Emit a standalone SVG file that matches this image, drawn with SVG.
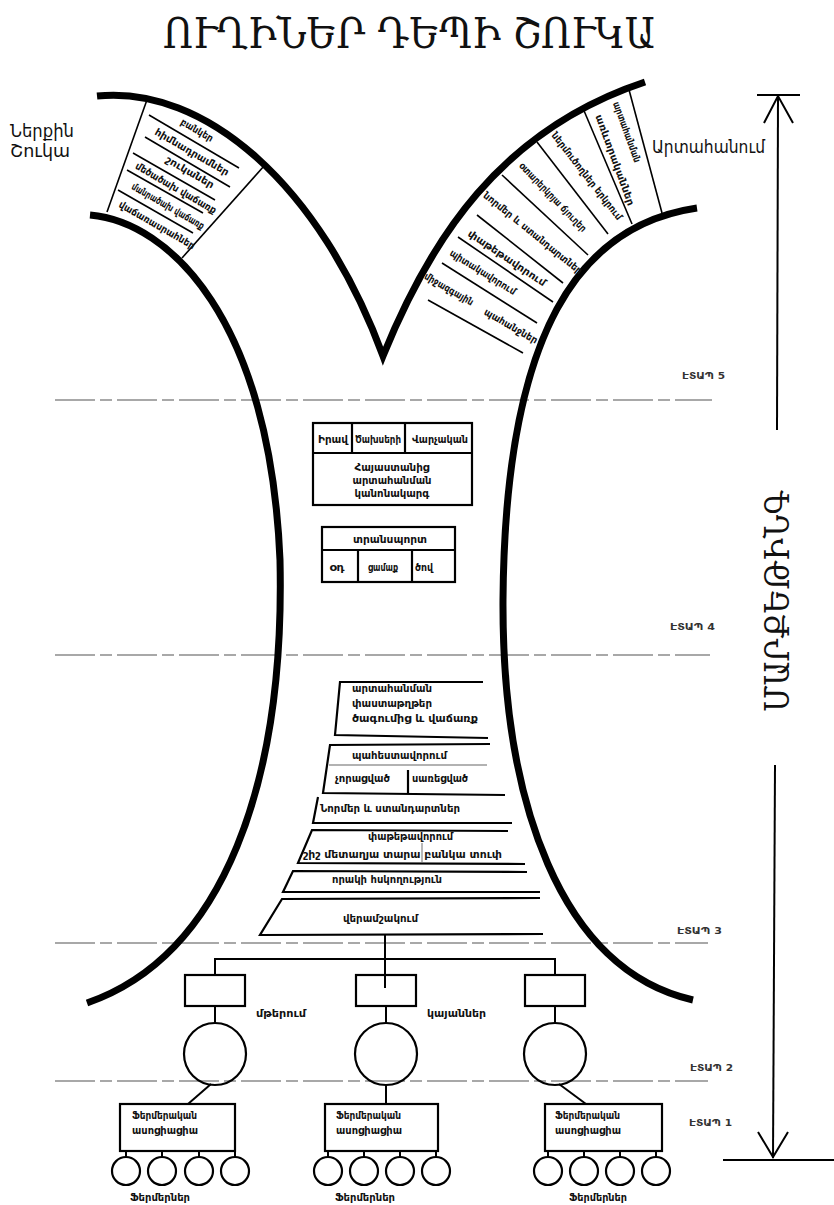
<svg xmlns="http://www.w3.org/2000/svg" width="834" height="1205" viewBox="0 0 834 1205">
<style>
.bg{fill:#fff}
.wall{fill:none;stroke:#000;stroke-width:7;stroke-linejoin:miter;stroke-miterlimit:6}
.ln{fill:none;stroke:#000;stroke-width:1.6}
.bx{fill:none;stroke:#000;stroke-width:2.2}
.grey{fill:none;stroke:#999;stroke-width:1.4}
.dash{fill:none;stroke:#8c8c8c;stroke-width:1.6;stroke-dasharray:40 5 12 5}
.conn{fill:none;stroke:#000;stroke-width:2}
.t{font-family:"DejaVu Sans","Noto Sans",sans-serif;fill:#111}
.sm{font-size:10px;font-weight:bold}
.lg{font-size:17px}
.et{font-size:9.5px;font-weight:bold;fill:#333}
.ttl{font-family:"DejaVu Serif","Noto Serif",serif;font-size:42px;fill:#111}
.vt{font-family:"DejaVu Serif","Noto Serif",serif;font-size:34px;fill:#111}
</style>
<rect class="bg" width="834" height="1205"/>

<text class="ttl" x="163" y="48" textLength="492" lengthAdjust="spacingAndGlyphs">ՈՒՂԻՆԵՐ ԴԵՊԻ ՇՈՒԿԱ</text>

<g id="stages">
<line class="dash" x1="55" y1="400" x2="712" y2="400"/>
<line class="dash" x1="55" y1="655" x2="710" y2="655"/>
<line class="dash" x1="55" y1="943" x2="708" y2="943"/>
<line class="dash" x1="55" y1="1081" x2="708" y2="1081"/>
<text class="t et" x="682" y="379" textLength="43" lengthAdjust="spacingAndGlyphs">ԷՏԱՊ 5</text>
<text class="t et" x="670" y="630" textLength="45" lengthAdjust="spacingAndGlyphs">ԷՏԱՊ 4</text>
<text class="t et" x="677" y="934" textLength="45" lengthAdjust="spacingAndGlyphs">ԷՏԱՊ 3</text>
<text class="t et" x="690" y="1071" textLength="43" lengthAdjust="spacingAndGlyphs">ԷՏԱՊ 2</text>
<text class="t et" x="689" y="1126" textLength="43" lengthAdjust="spacingAndGlyphs">ԷՏԱՊ 1</text>
</g>

<g id="walls">
<path class="wall" d="M97,96 C205,85 320,185 383,356 C430,240 500,130 645,82"/>
<path class="wall" d="M90,215 C170,222 270,320 280,560 C285,780 225,955 87,1003"/>
<path class="wall" d="M697,208 C580,225 505,330 503,600 C502,800 560,970 693,1000"/>
</g>

<g id="inner-market">
<text class="t lg" x="42" y="137" text-anchor="middle" textLength="64" lengthAdjust="spacingAndGlyphs">Ներքին</text>
<text class="t lg" x="40" y="157" text-anchor="middle" textLength="60" lengthAdjust="spacingAndGlyphs">Շուկա</text>
<line class="ln" x1="148" y1="97" x2="107" y2="212"/>
<line class="ln" x1="264" y1="166" x2="182" y2="258"/>
<line class="ln" x1="149" y1="115" x2="239" y2="168"/>
<line class="ln" x1="145" y1="137" x2="230" y2="187"/>
<line class="ln" x1="133" y1="153" x2="215" y2="200"/>
<line class="ln" x1="127" y1="170" x2="203" y2="213"/>
<line class="ln" x1="118" y1="190" x2="193" y2="233"/>
<text class="t sm" transform="translate(197,130) rotate(30)" dy="3.5" text-anchor="middle" textLength="36" lengthAdjust="spacingAndGlyphs">բանկեր</text>
<text class="t sm" transform="translate(192,152) rotate(30)" dy="3.5" text-anchor="middle" textLength="84" lengthAdjust="spacingAndGlyphs">հիմնադրամներ</text>
<text class="t sm" transform="translate(190,172) rotate(30)" dy="3.5" text-anchor="middle" textLength="54" lengthAdjust="spacingAndGlyphs">շուկաներ</text>
<text class="t sm" transform="translate(176,188) rotate(30)" dy="3.5" text-anchor="middle" textLength="92" lengthAdjust="spacingAndGlyphs">մեծածախ վաճառք</text>
<text class="t sm" transform="translate(168,206) rotate(30)" dy="3.5" text-anchor="middle" textLength="82" lengthAdjust="spacingAndGlyphs">մանրածախ վաճառք</text>
<text class="t sm" transform="translate(157,225) rotate(30)" dy="3.5" text-anchor="middle" textLength="86" lengthAdjust="spacingAndGlyphs">վաճառասրահներ</text>
</g>

<g id="export">
<text class="t lg" x="652" y="153" textLength="113" lengthAdjust="spacingAndGlyphs">Արտահանում</text>
<line class="ln" x1="628" y1="86" x2="662" y2="213"/>
<line class="ln" x1="582" y1="106" x2="632" y2="224"/>
<line class="ln" x1="537" y1="142" x2="608" y2="234"/>
<line class="ln" x1="502" y1="175" x2="588" y2="255"/>
<line class="ln" x1="477" y1="215" x2="563" y2="283"/>
<line class="ln" x1="458" y1="237" x2="553" y2="302"/>
<line class="ln" x1="442" y1="263" x2="537" y2="323"/>
<line class="ln" x1="428" y1="300" x2="523" y2="353"/>
<text class="t sm" transform="translate(627,132) rotate(70)" dy="3.5" text-anchor="middle" textLength="64" lengthAdjust="spacingAndGlyphs">արտահանման</text>
<text class="t sm" transform="translate(615,160) rotate(70)" dy="3.5" text-anchor="middle" textLength="96" lengthAdjust="spacingAndGlyphs">առևտրականներ</text>
<text class="t sm" transform="translate(587,176) rotate(52)" dy="3.5" text-anchor="middle" textLength="108" lengthAdjust="spacingAndGlyphs">ներմուծողներ երկրում</text>
<text class="t sm" transform="translate(553,197) rotate(46)" dy="3.5" text-anchor="middle" textLength="92" lengthAdjust="spacingAndGlyphs">օտարերկրյա ճյուղեր</text>
<text class="t sm" transform="translate(533,233) rotate(39)" dy="3.5" text-anchor="middle" textLength="124" lengthAdjust="spacingAndGlyphs">նորմեր և ստանդարտներ</text>
<text class="t sm" transform="translate(507,258) rotate(34)" dy="3.5" text-anchor="middle" textLength="92" lengthAdjust="spacingAndGlyphs">փաթեթավորում</text>
<text class="t sm" transform="translate(483,272) rotate(32)" dy="3.5" text-anchor="middle" textLength="76" lengthAdjust="spacingAndGlyphs">պիտակավորում</text>
<text class="t sm" transform="translate(449,289) rotate(30)" dy="3.5" text-anchor="middle" textLength="55" lengthAdjust="spacingAndGlyphs">միջազգային</text>
<text class="t sm" transform="translate(511,326) rotate(30)" dy="3.5" text-anchor="middle" textLength="60" lengthAdjust="spacingAndGlyphs">պահանջներ</text>
</g>

<g id="regulation">
<rect class="bx" x="313" y="423" width="159" height="82"/>
<line class="bx" x1="313" y1="453" x2="472" y2="453"/>
<line class="bx" x1="352" y1="423" x2="352" y2="453"/>
<line class="bx" x1="405" y1="423" x2="405" y2="453"/>
<text class="t sm" x="333" y="443" text-anchor="middle" textLength="30" lengthAdjust="spacingAndGlyphs">Իրավ</text>
<text class="t sm" x="378" y="443" text-anchor="middle" textLength="46" lengthAdjust="spacingAndGlyphs">Ծախսերի</text>
<text class="t sm" x="440" y="443" text-anchor="middle" textLength="56" lengthAdjust="spacingAndGlyphs">Վարչական</text>
<text class="t sm" x="392" y="471" text-anchor="middle" textLength="75" lengthAdjust="spacingAndGlyphs">Հայաստանից</text>
<text class="t sm" x="392" y="484" text-anchor="middle" textLength="79" lengthAdjust="spacingAndGlyphs">արտահանման</text>
<text class="t sm" x="392" y="497" text-anchor="middle" textLength="75" lengthAdjust="spacingAndGlyphs">կանոնակարգ</text>
</g>

<g id="transport">
<rect class="bx" x="322" y="527" width="133" height="55"/>
<line class="bx" x1="322" y1="550" x2="455" y2="550"/>
<line class="bx" x1="358" y1="550" x2="358" y2="582"/>
<line class="bx" x1="412" y1="550" x2="412" y2="582"/>
<text class="t sm" x="390" y="543" text-anchor="middle" textLength="74" lengthAdjust="spacingAndGlyphs">տրանսպորտ</text>
<text class="t sm" x="337" y="571" text-anchor="middle" textLength="15" lengthAdjust="spacingAndGlyphs">օդ</text>
<text class="t sm" x="383" y="571" text-anchor="middle" textLength="30" lengthAdjust="spacingAndGlyphs">ցամաք</text>
<text class="t sm" x="424" y="571" text-anchor="middle" textLength="18" lengthAdjust="spacingAndGlyphs">ծով</text>
</g>

<g id="documents">
<path class="bx" d="M483,682 L340,682 L335,735 L488,738"/>
<text class="t sm" x="352" y="692" textLength="80" lengthAdjust="spacingAndGlyphs">արտահանման</text>
<text class="t sm" x="352" y="707" textLength="80" lengthAdjust="spacingAndGlyphs">փաստաթղթեր</text>
<text class="t sm" x="352" y="722" textLength="126" lengthAdjust="spacingAndGlyphs">ծագումից և վաճառք</text>
</g>

<g id="storage">
<path class="bx" d="M490,744 L330,745 L323,793 L505,795"/>
<line class="grey" x1="329" y1="765" x2="487" y2="765"/>
<line class="bx" x1="408" y1="770" x2="408" y2="793"/>
<text class="t sm" x="352" y="759" textLength="95" lengthAdjust="spacingAndGlyphs">պահեստավորում</text>
<text class="t sm" x="335" y="782" textLength="55" lengthAdjust="spacingAndGlyphs">չորացված</text>
<text class="t sm" x="412" y="782" textLength="56" lengthAdjust="spacingAndGlyphs">սառեցված</text>
</g>

<g id="standards">
<path class="bx" d="M318,797 L313,823 L512,823"/>
<text class="t sm" x="320" y="812" textLength="140" lengthAdjust="spacingAndGlyphs">Նորմեր և ստանդարտներ</text>
</g>

<g id="packaging">
<path class="bx" d="M508,831 L312,830 L298,863 L525,864"/>
<line class="grey" x1="422" y1="843" x2="422" y2="862"/>
<text class="t sm" x="368" y="840" textLength="85" lengthAdjust="spacingAndGlyphs">փաթեթավորում</text>
<text class="t sm" x="303" y="858" textLength="199" lengthAdjust="spacingAndGlyphs">շիշ   մետաղյա  տարա   բանկա   տուփ</text>
</g>

<g id="quality">
<path class="bx" d="M527,872 L293,871 L283,892 L540,892"/>
<text class="t sm" x="332" y="883" textLength="110" lengthAdjust="spacingAndGlyphs">որակի հսկողություն</text>
</g>

<g id="processing">
<path class="bx" d="M540,898 L282,899 L260,935 L543,934"/>
<text class="t sm" x="343" y="922" textLength="75" lengthAdjust="spacingAndGlyphs">վերամշակում</text>
</g>

<g id="collection">
<rect class="bx" x="185" y="975" width="60" height="31"/>
<rect class="bx" x="356" y="975" width="60" height="31"/>
<rect class="bx" x="525" y="975" width="60" height="31"/>
<circle class="bx" cx="215" cy="1054" r="31"/>
<circle class="bx" cx="386" cy="1054" r="31"/>
<circle class="bx" cx="555" cy="1054" r="31"/>
<text class="t sm" x="256" y="1017" textLength="50" lengthAdjust="spacingAndGlyphs">մթերում</text>
<text class="t sm" x="427" y="1017" textLength="59" lengthAdjust="spacingAndGlyphs">կայաններ</text>
</g>

<g id="associations">
<rect class="bx" x="120" y="1104" width="115" height="47"/>
<rect class="bx" x="325" y="1104" width="113" height="47"/>
<rect class="bx" x="545" y="1104" width="117" height="47"/>
<text class="t sm" x="132" y="1119" textLength="65" lengthAdjust="spacingAndGlyphs">Ֆերմերական</text>
<text class="t sm" x="132" y="1134" textLength="66" lengthAdjust="spacingAndGlyphs">ասոցիացիա</text>
<text class="t sm" x="336" y="1119" textLength="65" lengthAdjust="spacingAndGlyphs">Ֆերմերական</text>
<text class="t sm" x="336" y="1134" textLength="66" lengthAdjust="spacingAndGlyphs">ասոցիացիա</text>
<text class="t sm" x="555" y="1119" textLength="65" lengthAdjust="spacingAndGlyphs">Ֆերմերական</text>
<text class="t sm" x="555" y="1134" textLength="66" lengthAdjust="spacingAndGlyphs">ասոցիացիա</text>
</g>

<g id="farmers">
<circle class="bx" cx="126" cy="1171" r="14"/>
<circle class="bx" cx="162" cy="1171" r="14"/>
<circle class="bx" cx="199" cy="1171" r="14"/>
<circle class="bx" cx="235" cy="1171" r="14"/>
<circle class="bx" cx="328" cy="1171" r="14"/>
<circle class="bx" cx="364" cy="1171" r="14"/>
<circle class="bx" cx="400" cy="1171" r="14"/>
<circle class="bx" cx="436" cy="1171" r="14"/>
<circle class="bx" cx="548" cy="1171" r="14"/>
<circle class="bx" cx="584" cy="1171" r="14"/>
<circle class="bx" cx="620" cy="1171" r="14"/>
<circle class="bx" cx="656" cy="1171" r="14"/>
<text class="t sm" x="160" y="1201" text-anchor="middle" textLength="60" lengthAdjust="spacingAndGlyphs">Ֆերմերներ</text>
<text class="t sm" x="365" y="1201" text-anchor="middle" textLength="60" lengthAdjust="spacingAndGlyphs">Ֆերմերներ</text>
<text class="t sm" x="598" y="1201" text-anchor="middle" textLength="58" lengthAdjust="spacingAndGlyphs">Ֆերմերներ</text>
</g>

<g id="connectors">
<polyline class="conn" points="215,975 215,959 555,959 555,975"/>
<line class="conn" x1="385" y1="935" x2="385" y2="988"/>
<line class="conn" x1="215" y1="1006" x2="215" y2="1023"/>
<line class="conn" x1="386" y1="1006" x2="386" y2="1023"/>
<line class="conn" x1="555" y1="1006" x2="555" y2="1023"/>
<line class="conn" x1="211" y1="1084" x2="188" y2="1104"/>
<line class="conn" x1="386" y1="1085" x2="386" y2="1104"/>
<line class="conn" x1="559" y1="1084" x2="586" y2="1104"/>
<line class="conn" x1="126" y1="1151" x2="126" y2="1157"/>
<line class="conn" x1="162" y1="1151" x2="162" y2="1157"/>
<line class="conn" x1="199" y1="1151" x2="199" y2="1157"/>
<line class="conn" x1="235" y1="1151" x2="235" y2="1157"/>
<line class="conn" x1="328" y1="1151" x2="328" y2="1157"/>
<line class="conn" x1="364" y1="1151" x2="364" y2="1157"/>
<line class="conn" x1="400" y1="1151" x2="400" y2="1157"/>
<line class="conn" x1="436" y1="1151" x2="436" y2="1157"/>
<line class="conn" x1="548" y1="1151" x2="548" y2="1157"/>
<line class="conn" x1="584" y1="1151" x2="584" y2="1157"/>
<line class="conn" x1="620" y1="1151" x2="620" y2="1157"/>
<line class="conn" x1="656" y1="1151" x2="656" y2="1157"/>
</g>

<g id="marketing-axis">
<line class="conn" x1="757" y1="95" x2="800" y2="95"/>
<polyline class="conn" points="764,123 778,96 793,123"/>
<line class="conn" x1="778" y1="96" x2="777" y2="430"/>
<line class="conn" x1="775" y1="765" x2="773" y2="1158"/>
<polyline class="conn" points="758,1132 773,1157 788,1132"/>
<line class="conn" x1="723" y1="1160" x2="834" y2="1160"/>
<text class="vt" transform="translate(789,601) rotate(-90)" text-anchor="middle" textLength="222" lengthAdjust="spacingAndGlyphs">ՄԱՐՔԵԹԻՆԳ</text>
</g>
</svg>
